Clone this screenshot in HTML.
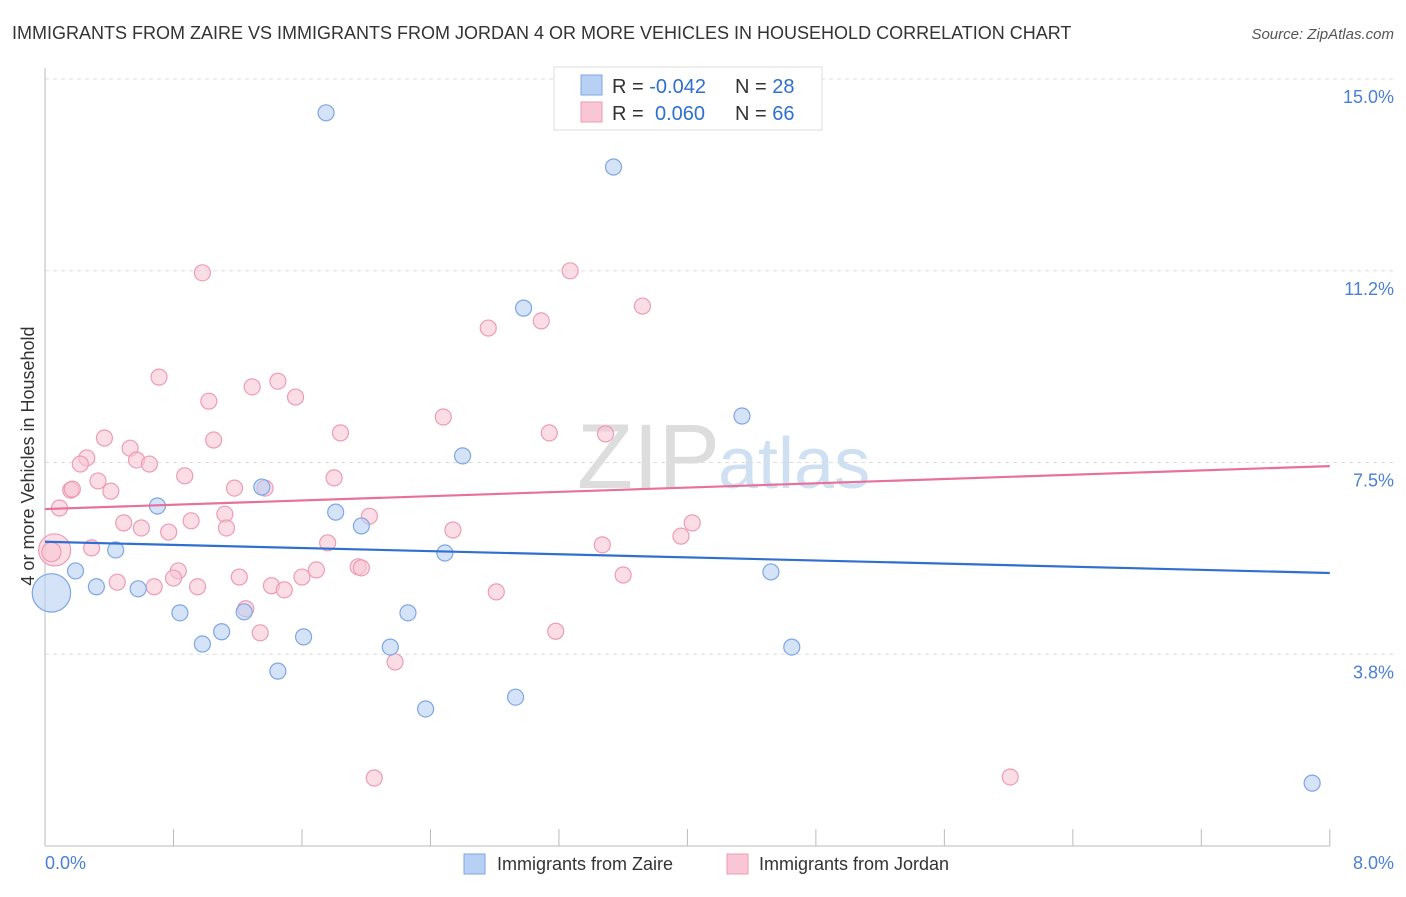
<!DOCTYPE html>
<html><head><meta charset="utf-8">
<style>
body{margin:0;background:#fff;font-family:"Liberation Sans",sans-serif;}
svg text{font-family:"Liberation Sans",sans-serif;}
</style></head>
<body>
<svg id="chart" width="1406" height="892" xmlns="http://www.w3.org/2000/svg">
<text x="12" y="39" font-size="18" fill="#333">IMMIGRANTS FROM ZAIRE VS IMMIGRANTS FROM JORDAN 4 OR MORE VEHICLES IN HOUSEHOLD CORRELATION CHART</text>
<text x="1394" y="39" font-size="15" fill="#555" font-style="italic" text-anchor="end">Source: ZipAtlas.com</text>
<text x="720" y="488" font-size="92" fill="#ddd" text-anchor="end" font-family="Liberation Serif">ZIP</text>
<text x="718" y="488" font-size="72" fill="#cfe0f3">atlas</text>
<g id="grid"></g>
<g id="axes"></g>
<g id="marks"></g>
<text x="34" y="456" font-size="18" fill="#333" text-anchor="middle" transform="rotate(-90 34 456)">4 or more Vehicles in Household</text>
<text x="45" y="869" font-size="18" fill="#4a7fd4">0.0%</text>
<text x="1394" y="869" font-size="18" fill="#4a7fd4" text-anchor="end">8.0%</text>
<g>
<rect x="464" y="854" width="21" height="20" fill="#b8d0f4" stroke="#7ea6e4"/>
<text x="497" y="870" font-size="18" fill="#333">Immigrants from Zaire</text>
<rect x="727" y="854" width="21" height="20" fill="#f9c6d6" stroke="#ee9bb6"/>
<text x="759" y="870" font-size="18" fill="#333">Immigrants from Jordan</text>
</g>
<g>
<rect x="554" y="67" width="268" height="63" fill="#fff" stroke="#ddd"/>
<rect x="581" y="75" width="21" height="20" fill="#b8d0f4" stroke="#7ea6e4"/>
<rect x="581" y="102" width="21" height="20" fill="#f9c6d6" stroke="#ee9bb6"/>
<text x="612" y="93" font-size="20" fill="#333">R = <tspan fill="#2f6fd0">-0.042</tspan><tspan x="735">N = </tspan><tspan fill="#2f6fd0">28</tspan></text>
<text x="612" y="120" font-size="20" fill="#333">R = <tspan x="655" fill="#2f6fd0">0.060</tspan><tspan x="735">N = </tspan><tspan fill="#2f6fd0">66</tspan></text>
</g>
</svg>
<script>
const yTicks=[3.75,7.5,11.25,15];
const yTickLabels=["3.8%","7.5%","11.2%","15.0%"];
const xTicks=[0,0.8,1.6,2.4,3.2,4,4.8,5.6,6.4,7.2,8];
const zaireX=[1.75,3.54,2.98,4.34,2.60,1.35,0.70,1.81,1.97,2.49,0.44,0.19,0.32,0.58,0.84,1.24,2.26,1.10,1.61,0.98,2.15,1.45,4.65,4.52,2.93,2.37,7.89,0.04];
const zaireY=[14.34,13.28,10.52,8.41,7.63,7.02,6.65,6.53,6.26,5.73,5.79,5.38,5.07,5.03,4.56,4.58,4.56,4.19,4.09,3.95,3.89,3.42,3.89,5.36,2.91,2.68,1.23,4.95];
const zaireSize=[1,1,1,1,1,1,1,1,1,1,1,1,1,1,1,1,1,1,1,1,1,1,1,1,1,1,1,2.4];
const jordanX=[0.98,3.27,3.72,2.76,3.09,0.71,1.29,1.45,1.02,1.56,2.48,1.84,3.14,3.49,0.37,1.05,0.53,0.26,0.22,0.57,0.65,0.33,0.87,1.80,0.16,0.17,0.41,1.18,1.37,0.09,1.12,2.02,0.49,0.91,0.60,0.77,1.13,2.54,4.03,3.96,0.29,1.76,3.47,0.06,0.83,0.80,1.69,1.21,1.60,1.95,1.97,0.45,0.68,0.95,1.41,1.49,2.81,3.60,1.25,1.34,3.18,2.18,2.05,6.01,0.04];
const jordanY=[11.21,11.25,10.56,10.13,10.27,9.17,8.98,9.09,8.70,8.78,8.39,8.08,8.08,8.06,7.98,7.94,7.78,7.59,7.47,7.55,7.47,7.14,7.24,7.20,6.96,6.98,6.94,7.00,7.00,6.61,6.49,6.45,6.32,6.36,6.22,6.14,6.22,6.18,6.32,6.06,5.83,5.93,5.89,5.79,5.38,5.24,5.40,5.26,5.26,5.46,5.44,5.16,5.07,5.07,5.09,5.01,4.97,5.30,4.64,4.17,4.20,3.60,1.33,1.35,5.75];
const jordanSize=[1,1,1,1,1,1,1,1,1,1,1,1,1,1,1,1,1,1,1,1,1,1,1,1,1,1,1,1,1,1,1,1,1,1,1,1,1,1,1,1,1,1,1,2,1,1,1,1,1,1,1,1,1,1,1,1,1,1,1,1,1,1,1,1,1.2];
const zaireTrend=[5.95,5.34];
const jordanTrend=[6.59,7.43];
const NS="http://www.w3.org/2000/svg";
const xs=v=>45+v*160.6;
const ys=v=>846-v*51.13;
function mk(tag,attrs,parent){const e=document.createElementNS(NS,tag);for(const k in attrs)e.setAttribute(k,attrs[k]);parent.appendChild(e);return e;}
const grid=document.getElementById('grid'),axes=document.getElementById('axes'),marks=document.getElementById('marks');
yTicks.forEach((t,i)=>{
  const l=mk('line',{x1:45,x2:1394,y1:ys(t),y2:ys(t),stroke:'#ddd','stroke-dasharray':'4,4'},grid);
  
  
  const tx=mk('text',{x:1394,y:ys(t)+24,'font-size':18,fill:'#4a7fd4','text-anchor':'end'},axes);
  tx.textContent=yTickLabels[i];
  
  
});
const ax=mk('line',{x1:45,x2:1330,y1:846,y2:846,stroke:'#bbb'},axes);


const ay=mk('line',{x1:45,x2:45,y1:68,y2:846,stroke:'#bbb'},axes);


xTicks.forEach(t=>{
  const l=mk('line',{x1:xs(t),x2:xs(t),y1:829,y2:846,stroke:'#bbb'},axes);
  
  
});
function series(X,Y,S,fill,stroke,name){
  X.forEach((x,i)=>{
    const c=mk('circle',{cx:xs(x),cy:ys(Y[i]),r:8*S[i],fill:fill,stroke:stroke,'stroke-width':1.2,'fill-opacity':0.6},marks);
    
    
  });
}
series(jordanX,jordanY,jordanSize,'#f9c6d6','#ee9bb6','jordan-point');
series(zaireX,zaireY,zaireSize,'#b8d0f4','#7ea6e4','zaire-point');
const tz=mk('line',{x1:xs(0),x2:xs(8),y1:ys(zaireTrend[0]),y2:ys(zaireTrend[1]),stroke:'#2f6fd0','stroke-width':2.2},marks);


const tj=mk('line',{x1:xs(0),x2:xs(8),y1:ys(jordanTrend[0]),y2:ys(jordanTrend[1]),stroke:'#e8709a','stroke-width':2.2},marks);


</script>
</body></html>
